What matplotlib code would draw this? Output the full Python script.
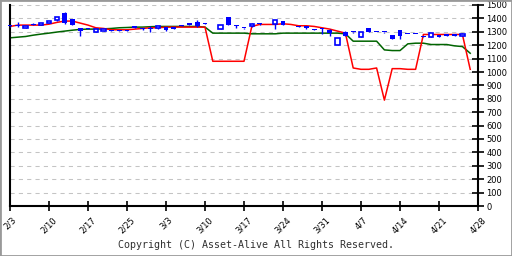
import numpy as np
import matplotlib
matplotlib.use('Agg')
import matplotlib.pyplot as plt
from matplotlib.patches import Rectangle

nan = np.nan

# daily candles (index = trading day)
opens  = [1340, 1352, 1330, 1360, 1350, 1365, 1385, 1440, 1395, 1330,
          1322, 1300, 1305, 1315, 1315, 1315, 1345, 1325, 1322, 1325,
          1335, 1335, 1352, 1365, 1370, 1360, nan, 1320, 1410, 1340,
          1325, 1340, 1355, nan, 1355, 1380, nan, 1345, 1345, 1322,
          1318, 1310, 1200, 1300, 1295, 1262, 1328, 1298, 1295, 1275,
          1315, 1283, 1283, 1270, 1262, 1277, 1283, 1283, 1270]
closes = [1340, 1345, 1340, 1350, 1365, 1380, 1410, 1365, 1350, 1305,
          1322, 1320, 1320, 1305, 1305, 1305, 1330, 1320, 1322, 1340,
          1315, 1320, 1345, 1350, 1345, 1360, nan, 1350, 1350, 1340,
          1325, 1360, 1355, nan, 1385, 1350, nan, 1335, 1325, 1315,
          1318, 1290, 1250, 1270, 1295, 1298, 1300, 1298, 1295, 1245,
          1270, 1283, 1283, 1262, 1290, 1262, 1272, 1272, 1287]
highs  = [1342, 1370, 1342, 1362, 1367, 1382, 1412, 1445, 1397, 1332,
          1325, 1322, 1322, 1317, 1317, 1317, 1347, 1330, 1340, 1342,
          1337, 1337, 1354, 1367, 1385, 1362, nan, 1352, 1412, 1350,
          1327, 1362, 1362, nan, 1387, 1382, nan, 1347, 1347, 1324,
          1330, 1320, 1252, 1305, 1297, 1300, 1330, 1300, 1297, 1277,
          1317, 1285, 1285, 1272, 1292, 1279, 1285, 1285, 1292]
lows   = [1338, 1335, 1328, 1348, 1348, 1363, 1383, 1358, 1348, 1270,
          1318, 1298, 1303, 1303, 1303, 1303, 1328, 1310, 1300, 1323,
          1305, 1318, 1343, 1348, 1335, 1358, nan, 1318, 1348, 1332,
          1323, 1338, 1348, nan, 1320, 1348, nan, 1333, 1323, 1313,
          1280, 1270, 1198, 1265, 1293, 1260, 1298, 1296, 1293, 1243,
          1245, 1281, 1281, 1260, 1260, 1260, 1270, 1270, 1265]

red = [1340, 1350, 1350, 1350, 1350, 1357, 1370, 1380, 1380, 1365,
       1350, 1330, 1325, 1315, 1315, 1315, 1320, 1325, 1330, 1330,
       1335, 1335, 1335, 1335, 1335, 1335, 1080, 1080, 1080, 1080,
       1080, 1340, 1355, 1355, 1355, 1360, 1355, 1345, 1345, 1340,
       1330, 1320, 1305, 1290, 1030, 1020, 1020, 1030, 790, 1025,
       1025, 1020, 1020, 1280, 1280, 1280, 1280, 1280, 1280, 1020]
green = [1255, 1260, 1265, 1275, 1283, 1290, 1298, 1305, 1312, 1318,
         1320, 1320, 1322, 1325, 1330, 1332, 1335, 1335, 1338, 1340,
         1340, 1340, 1340, 1340, 1340, 1335, 1290, 1290, 1290, 1290,
         1290, 1285, 1285, 1285, 1285, 1290, 1290, 1290, 1290, 1290,
         1290, 1290, 1290, 1285, 1230, 1230, 1230, 1230, 1165, 1160,
         1160, 1210, 1215, 1215, 1205, 1205, 1205, 1195, 1190, 1140]

tick_labels = ['2/3', '2/10', '2/17', '2/25', '3/3', '3/10', '3/17',
               '3/24', '3/31', '4/7', '4/14', '4/21', '4/28']

fig = plt.figure(figsize=(5.12, 2.56), dpi=100)
ax = fig.add_axes([10/512, 50/256, 468/512, 201/256])

ax.set_xlim(0, 60)
ax.set_ylim(0, 1500)
ax.set_yticks(range(0, 1501, 100))
ax.grid(axis='y', color='#c4c4c4', linestyle=(0, (4, 4)), lw=0.75)
ax.set_axisbelow(True)

blue = '#0000ff'
for i in range(len(opens)):
    o, c, h, l = opens[i], closes[i], highs[i], lows[i]
    if np.isnan(o):
        continue
    ax.vlines(i, l, h, color=blue, lw=1, zorder=3, clip_on=False)
    lo = min(o, c)
    ht = max(abs(c - o), 8)
    if c > o:
        ax.bar(i, ht, 0.55, bottom=lo, facecolor='white', edgecolor=blue, lw=1.2, zorder=4, clip_on=False)
    else:
        ax.bar(i, ht, 0.62, bottom=lo, color=blue, lw=0, zorder=4, clip_on=False)

xs = np.arange(len(red))
ax.plot(xs, green, color='#006400', lw=1.1, zorder=2)
ax.plot(xs, red, color='#ff0000', lw=1.1, zorder=2)

ax.yaxis.tick_right()
ax.spines['top'].set_visible(False)
for s in ['left', 'right', 'bottom']:
    ax.spines[s].set_linewidth(1.5)
ax.tick_params(axis='y', direction='inout', length=8, width=1.2, labelsize=6, pad=2)
ax.set_xticks(range(0, 61, 5))
ax.set_xticklabels(tick_labels, rotation=45, ha='center', fontsize=6)
ax.tick_params(axis='x', direction='inout', length=7, width=1.2, pad=3)

fig.text(0.5, 1 - 245/256, 'Copyright (C) Asset-Alive All Rights Reserved.',
         ha='center', va='center', fontsize=7.2, family='DejaVu Sans Mono', color='#303030')
fig.patches.append(Rectangle((0, 0), 1, 1, transform=fig.transFigure,
                             fill=False, edgecolor='#999999', lw=2))

fig.savefig('out.png', dpi=100)
